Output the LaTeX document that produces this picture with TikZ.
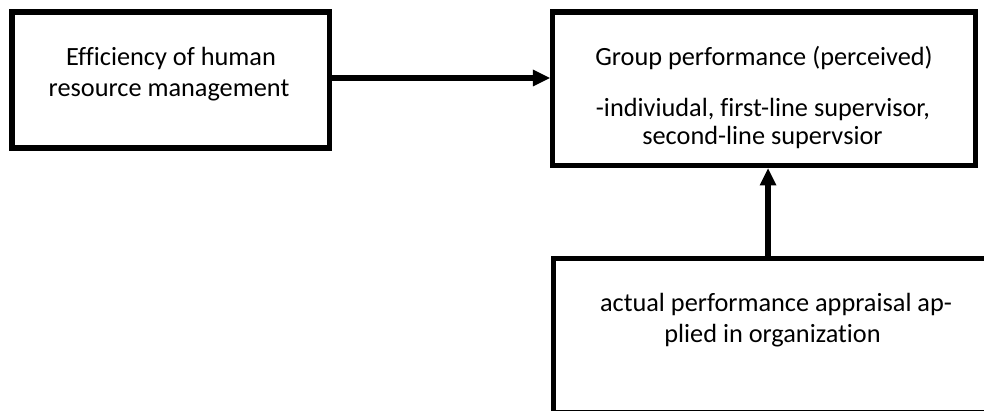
\documentclass[tikz,border=0pt]{standalone}
\usepackage{fontspec}
\setmainfont{Carlito}[Ligatures={NoCommon}]
\usetikzlibrary{arrows.meta}
\begin{document}
\begin{tikzpicture}[x=1pt,y=-1pt,
  box/.style={draw=black,line width=5.5pt,rectangle,inner sep=0pt},
  txt/.style={anchor=base,inner sep=0pt,font=\fontsize{26.3}{30}\selectfont},
  arr/.style={line width=5.5pt,-{Triangle[length=17pt,width=17pt,line width=0pt]}}]
\useasboundingbox (0,0) rectangle (984,411);
\fill[white] (0,0) rectangle (984,411);
\clip (0,0) rectangle (984,411);
% boxes
\node[box,minimum width=317.5pt,minimum height=136pt] (L) at (170.75,80) {};
\node[box,minimum width=423pt,minimum height=153.5pt] (T) at (764,89) {};
\node[box,minimum width=445pt,minimum height=154pt] (B) at (776,335.5) {};
% texts
\node[txt] (L1) at (171,66) {Efficiency of human};
\node[txt] (L2) at (169,97) {resource management};
\node[txt] (T1) at (764,66) {Group performance (perceived)};
\node[txt] (T2) at (763,117) {-indiviudal, first-line supervisor,};
\node[txt] (T3) at (762.5,145) {second-line supervsior};
\node[txt] (B1) at (776,311) {actual performance appraisal ap-};
\node[txt] (B2) at (772.5,342) {plied in organization};
% connectors
\draw[arr] ([yshift=2pt]L.east) -- ([yshift=2pt]L.east -| T.west);
\draw[arr] ([xshift=-8pt]B.north) -- ([xshift=-8pt]B.north |- T.south);
\end{tikzpicture}
\end{document}
